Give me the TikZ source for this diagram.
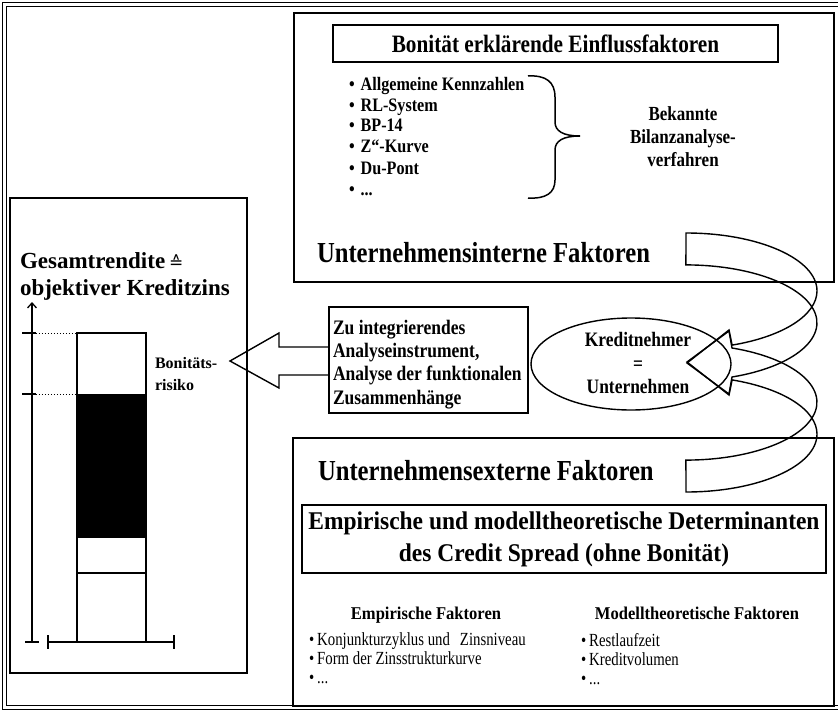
\documentclass[tikz,border=0pt]{standalone}
\usepackage{fontspec}
\setmainfont{Liberation Serif}
\newfontfamily\condf[FakeStretch=0.85]{Liberation Serif}
\newfontfamily\semif[FakeStretch=0.92]{Liberation Serif}
\newfontfamily\narrowf[FakeStretch=0.8]{Liberation Serif}
\newfontfamily\symf{DejaVu Sans}
\usetikzlibrary{shapes.geometric,arrows.meta}
\newcommand\fsz[2]{\fontsize{#1bp}{#2bp}\selectfont}
\newcommand\tdots{...}
\begin{document}
\begin{tikzpicture}[x=1bp,y=-1bp,line join=miter,
  box/.style={draw,line width=1.4bp,inner sep=0pt,outer sep=0pt},
  lbl/.style={inner sep=0pt,outer sep=0pt,anchor=base west},
  ribbon/.style={draw,line width=1.4bp},
  thin/.style={line width=1.3bp}]
\useasboundingbox (0,0) rectangle (838,712);
% outer frame
\draw[line width=1.5bp] (842,2.5) -- (2.5,2.5) -- (2.5,709.5) -- (842,709.5);
\draw[line width=0.7bp] (842,6.5) -- (6.5,6.5) -- (6.5,705.8) -- (842,705.8);

% ---------- top box ----------
\node[box,anchor=north west,minimum width=540bp,minimum height=269bp] (intern) at (294,13) {};
\node[box,minimum width=445bp,minimum height=37bp,font=\condf\bfseries\fsz{25}{30}] (bontitle) at (555.5,43.5) {Bonität erklärende Einflussfaktoren};
\foreach \t/\y [count=\i] in {Allgemeine Kennzahlen/91,RL-System/112,BP-14/132,Z“-Kurve/153,Du-Pont/174,\tdots/195}{
  \node[lbl,font=\condf\bfseries\fsz{19}{22}] (b\i) at (349,\y) {•\hspace{6bp}\t};
}
\draw[line width=1.5bp] (528,76) .. controls (546,75) and (555,82) .. (555,97) -- (555,122)
  .. controls (555,131) and (563,136) .. (580,136)
  .. controls (563,136) and (555,141) .. (555,150) -- (555,180)
  .. controls (555,193) and (546,199) .. (528,198);
\node[font=\condf\bfseries\fsz{20}{23},align=center,inner sep=0pt] (bek) at (683,137) {Bekannte\\Bilanzanalyse-\\verfahren};
\node[lbl,font=\condf\bfseries\fsz{29}{34}] (intlbl) at (317,262) {Unternehmensinterne Faktoren};

% ---------- left chart box ----------
\node[box,anchor=north west,minimum width=237bp,minimum height=475bp] (chart) at (10,198) {};
\node[lbl,font=\bfseries\fsz{23}{26}] (ges) at (20,268) {Gesamtrendite\,{\symf\mdseries\fsz{17}{20}≙}};
\node[lbl,font=\bfseries\fsz{23}{26}] (obj) at (20,295) {objektiver Kreditzins};
\coordinate (ax0) at (32,642);
\coordinate (ax1) at (32,302);
\draw[thin,-{Straight Barb[length=5bp,width=9bp,line width=1.3bp]}] (ax0) -- (ax1);
\draw[thin] (25,642) -- (39,642);
\draw[thin] (22,333) -- (36,333);
\draw[line width=1bp,dotted] (36,333) -- (77,333);
\draw[thin] (22,394) -- (36,394);
\draw[line width=1bp,dotted] (36,394) -- (77,394);
\fill (77,394) rectangle (146,538);
\draw[thin] (77,333) rectangle (146,642);
\draw[thin] (77,573) -- (146,573);
\draw[thin] (48,642) -- (174,642);
\draw[thin] (48,635) -- (48,649);
\draw[thin] (174,635) -- (174,649);
\node[lbl,font=\bfseries\fsz{16}{20}] (bon1) at (155,368) {Bonitäts-};
\node[lbl,font=\bfseries\fsz{16}{20}] (bon2) at (155,390) {risiko};

% ---------- analysis box and hollow arrow ----------
\node[box,anchor=north west,minimum width=199bp,minimum height=106bp] (integr) at (329,307) {};
\node[lbl,font=\condf\bfseries\fsz{20.6}{23}] (i1) at (333,334) {Zu integrierendes};
\node[lbl,font=\condf\bfseries\fsz{20.6}{23}] (i2) at (333,357) {Analyseinstrument,};
\node[lbl,font=\condf\bfseries\fsz{20.6}{23}] (i3) at (333,380) {Analyse der funktionalen};
\node[lbl,font=\condf\bfseries\fsz{20.6}{23}] (i4) at (333,404) {Zusammenhänge};
\coordinate (tipL) at (230,361);
\draw[line width=1.4bp] ([yshift=13bp]integr.west) -- ++(-50,0) -- ++(0,-14) -- (tipL)
  -- (279,388) -- (279,375) -- ([yshift=-15bp]integr.west);

% ---------- ellipse ----------
\node[draw,ellipse,line width=1.4bp,minimum width=200bp,minimum height=92bp,inner sep=0pt] (kn) at (631,364) {};
\node[font=\condf\bfseries\fsz{20.5}{23.5},align=center,inner sep=0pt] (kntext) at (638,363) {Kreditnehmer\\=\\Unternehmen};

% ---------- curved ribbon arrows ----------
\draw[ribbon] (686,233) arc[start angle=90,end angle=-69.4,x radius=131bp,y radius=57.9bp]
  -- (729,330) -- (687,363) -- (729,394) -- (732,377)
  arc[start angle=-69.4,end angle=90,x radius=131bp,y radius=57.9bp] -- cycle;
\draw[ribbon] (686,492) arc[start angle=-90,end angle=69.4,x radius=131bp,y radius=57.9bp]
  -- (729,395) -- (687,362) -- (729,331) -- (732,348)
  arc[start angle=69.4,end angle=-90,x radius=131bp,y radius=57.9bp] -- cycle;

% ---------- bottom box ----------
\node[box,anchor=north west,minimum width=541bp,minimum height=268bp] (extern) at (293,438) {};
\node[lbl,font=\condf\bfseries\fsz{29}{34}] (extlbl) at (318,480) {Unternehmensexterne Faktoren};
\node[box,minimum width=524bp,minimum height=68bp,font=\semif\bfseries\fsz{25.5}{32},align=center] (det) at (564,539) {Empirische und modelltheoretische Determinanten\\des Credit Spread (ohne Bonität)};
\node[inner sep=0pt,anchor=base,font=\semif\bfseries\fsz{18}{22}] (emp) at (426,619) {Empirische Faktoren};
\node[inner sep=0pt,anchor=base,font=\semif\bfseries\fsz{18}{22}] (mod) at (697,619) {Modelltheoretische Faktoren};
\node[lbl,font=\narrowf\fsz{18.5}{20}] (e1) at (309,645) {•\hspace{3bp}Konjunkturzyklus und\hspace{10bp}Zinsniveau};
\node[lbl,font=\narrowf\fsz{18.5}{20}] (e2) at (309,664) {•\hspace{3bp}Form der Zinsstrukturkurve};
\node[lbl,font=\narrowf\fsz{18.5}{20}] (e3) at (309,683) {•\hspace{3bp}\tdots};
\node[lbl,font=\narrowf\fsz{18.5}{20}] (m1) at (581,646) {•\hspace{3bp}Restlaufzeit};
\node[lbl,font=\narrowf\fsz{18.5}{20}] (m2) at (581,665) {•\hspace{3bp}Kreditvolumen};
\node[lbl,font=\narrowf\fsz{18.5}{20}] (m3) at (581,684) {•\hspace{3bp}\tdots};
\end{tikzpicture}
\end{document}
